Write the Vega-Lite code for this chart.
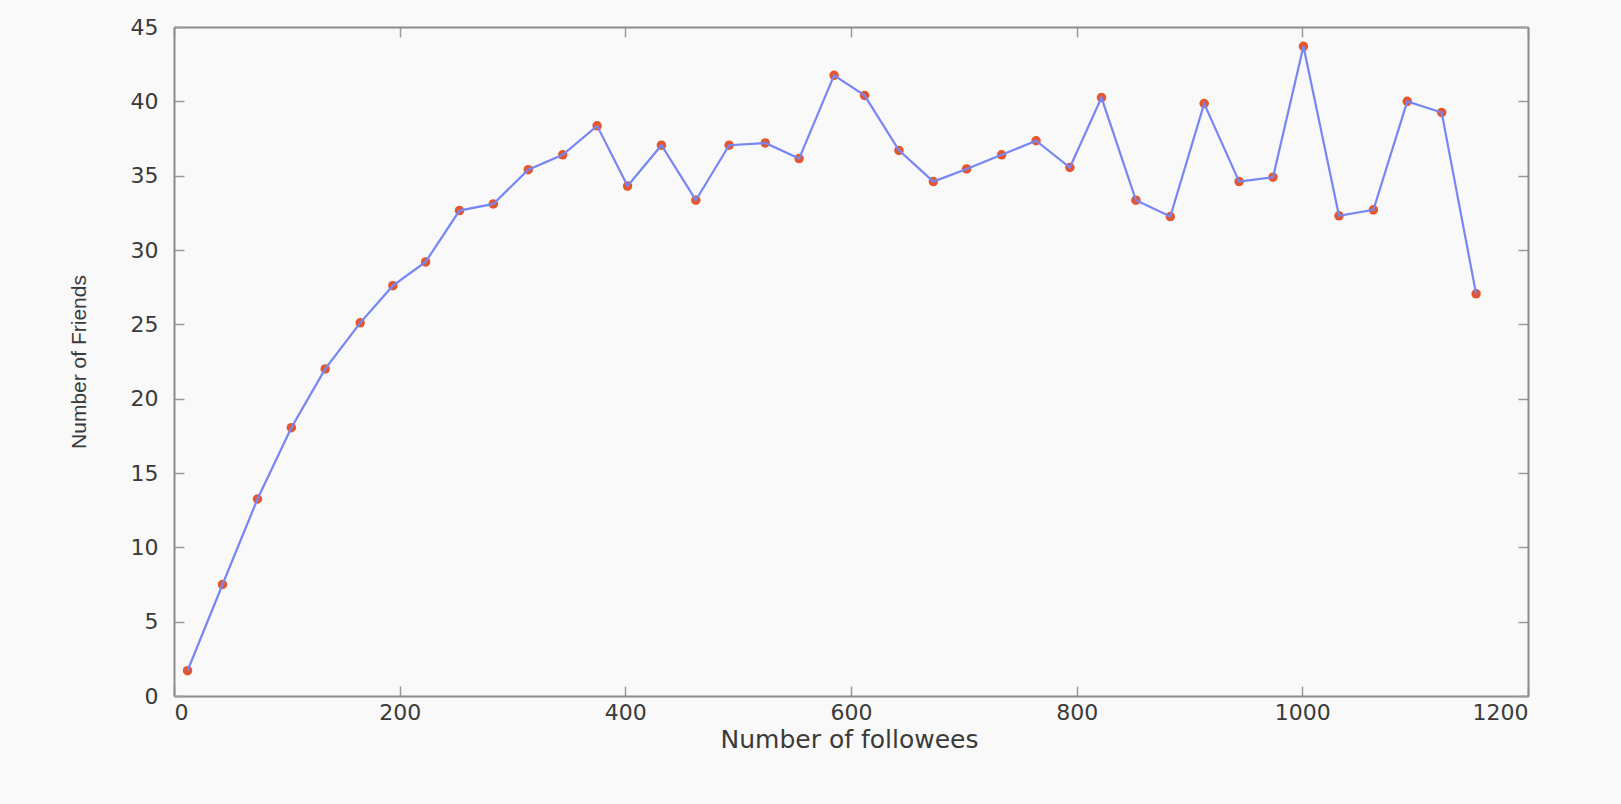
{
  "$schema": "https://vega.github.io/schema/vega-lite/v6.json",
  "width": 1354,
  "height": 669,
  "autosize": {"type": "none"},
  "padding": {"left": 174, "top": 27, "right": 93, "bottom": 108},
  "background": "#f9f9f9",
  "config": {
    "view": {"stroke": null, "fill": "#f9f9f9"},
    "axis": {
      "grid": false,
      "domainColor": "#8c8c8c",
      "domainWidth": 2,
      "tickColor": "#9a9a9a",
      "tickWidth": 1.5,
      "tickSize": -10,
      "labelFont": "DejaVu Sans",
      "labelFontSize": 22,
      "labelColor": "#3a3a3a",
      "titleColor": "#3a3a3a",
      "titleFontWeight": "normal"
    }
  },
  "data": {
    "values": [
      {"followees": 12, "friends": 1.7},
      {"followees": 43, "friends": 7.5},
      {"followees": 74, "friends": 13.25},
      {"followees": 104, "friends": 18.05},
      {"followees": 134, "friends": 22.0},
      {"followees": 165, "friends": 25.1},
      {"followees": 194, "friends": 27.6},
      {"followees": 223, "friends": 29.2},
      {"followees": 253, "friends": 32.65},
      {"followees": 283, "friends": 33.1},
      {"followees": 314, "friends": 35.4},
      {"followees": 344.5, "friends": 36.4},
      {"followees": 375, "friends": 38.35},
      {"followees": 402, "friends": 34.3},
      {"followees": 432, "friends": 37.05},
      {"followees": 462.5, "friends": 33.35},
      {"followees": 492, "friends": 37.05},
      {"followees": 524, "friends": 37.2},
      {"followees": 554, "friends": 36.15},
      {"followees": 585, "friends": 41.75},
      {"followees": 612, "friends": 40.4},
      {"followees": 642.5, "friends": 36.7},
      {"followees": 673, "friends": 34.6},
      {"followees": 702.5, "friends": 35.45},
      {"followees": 733.5, "friends": 36.4},
      {"followees": 764, "friends": 37.35},
      {"followees": 794, "friends": 35.55},
      {"followees": 822, "friends": 40.25},
      {"followees": 852.5, "friends": 33.35},
      {"followees": 883, "friends": 32.25},
      {"followees": 913, "friends": 39.85},
      {"followees": 944, "friends": 34.6},
      {"followees": 974, "friends": 34.9},
      {"followees": 1001, "friends": 43.7},
      {"followees": 1032.5, "friends": 32.3},
      {"followees": 1063, "friends": 32.7},
      {"followees": 1093, "friends": 40.0},
      {"followees": 1123.5, "friends": 39.25},
      {"followees": 1154, "friends": 27.05}
    ]
  },
  "layer": [
    {
      "mark": {"type": "point", "shape": "circle", "filled": true, "size": 90, "color": "#e4572e", "opacity": 1},
      "encoding": {
        "x": {
          "field": "followees", "type": "quantitative",
          "scale": {"domain": [0, 1200], "nice": false},
          "axis": {"orient": "top", "labels": false, "title": null, "values": [0, 200, 400, 600, 800, 1000, 1200]}
        },
        "y": {
          "field": "friends", "type": "quantitative",
          "scale": {"domain": [0, 45], "nice": false},
          "axis": {"orient": "right", "labels": false, "title": null, "values": [0, 5, 10, 15, 20, 25, 30, 35, 40, 45]}
        }
      }
    },
    {
      "mark": {"type": "line", "color": "#7686f3", "strokeWidth": 2.2},
      "encoding": {
        "x": {
          "field": "followees", "type": "quantitative",
          "axis": {
            "orient": "bottom",
            "values": [0, 200, 400, 600, 800, 1000, 1200],
            "format": "d",
            "labelBaseline": "alphabetic",
            "labelPadding": 33,
            "title": "Number of followees",
            "titleFont": "DejaVu Sans",
            "titleFontSize": 25,
            "titleBaseline": "alphabetic",
            "titleX": 675,
            "titleY": 51
          }
        },
        "y": {
          "field": "friends", "type": "quantitative",
          "axis": {
            "orient": "left",
            "values": [0, 5, 10, 15, 20, 25, 30, 35, 40, 45],
            "format": "d",
            "labelPadding": 26,
            "title": "Number of Friends",
            "titleFont": "Liberation Sans",
            "titleFontSize": 21,
            "titleAngle": -90,
            "titleBaseline": "middle",
            "titleX": -95,
            "titleY": 334.5
          }
        }
      }
    }
  ],
  "resolve": {"axis": {"x": "independent", "y": "independent"}}
}
